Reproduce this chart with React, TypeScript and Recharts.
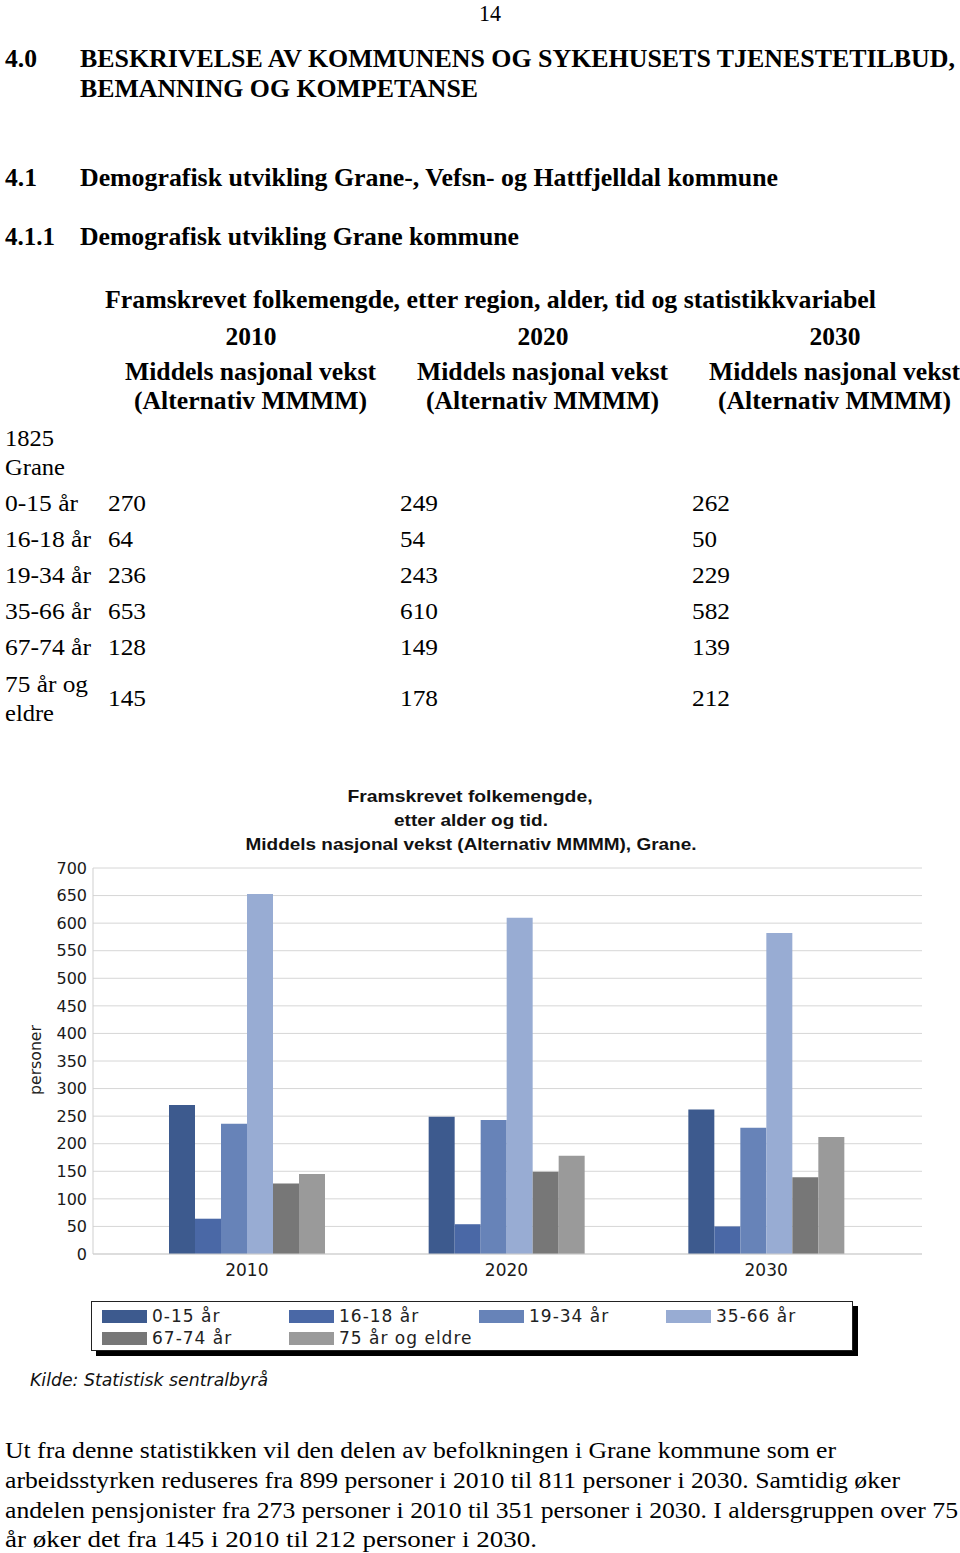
import React from 'react';
import { BarChart, Bar, XAxis, YAxis, CartesianGrid, Legend } from 'recharts';

// chart data
const years = ['2010', '2020', '2030'];
const ageGroups = ['0-15 år', '16-18 år', '19-34 år', '35-66 år', '67-74 år', '75 år og eldre'];
const age0to15 = [270, 249, 262];
const age16to18 = [64, 54, 50];
const age19to34 = [236, 243, 229];
const age35to66 = [653, 610, 582];
const age67to74 = [128, 149, 139];
const age75plus = [145, 178, 212];
const yTicks = [0, 50, 100, 150, 200, 250, 300, 350, 400, 450, 500, 550, 600, 650, 700];

// table row labels (page text above the chart)
const rowLabels = [['0-15 år'], ['16-18 år'], ['19-34 år'], ['35-66 år'], ['67-74 år'], ['75 år og', 'eldre']];

const seriesKeys = ['a0', 'a16', 'a19', 'a35', 'a67', 'a75'];
const seriesValues = [age0to15, age16to18, age19to34, age35to66, age67to74, age75plus];
const colors = ['#3d5a8e', '#4a68a6', '#6783b8', '#98acd3', '#777777', '#9a9a9a'];

const data = years.map((year, i) => {
  const row: Record<string, string | number> = { year };
  seriesKeys.forEach((k, s) => {
    row[k] = seriesValues[s][i];
  });
  return row;
});

const SERIF = '"Liberation Serif", "Times New Roman", Times, serif';
const SANS = '"DejaVu Sans", sans-serif';
const ARIAL = '"Liberation Sans", Arial, sans-serif';

type TProps = {
  x: number;
  y: number;
  w?: number;
  size?: number;
  bold?: boolean;
  italic?: boolean;
  family?: string;
  anchor?: 'start' | 'middle' | 'end';
  fill?: string;
  children: React.ReactNode;
};

const T = ({ x, y, w, size = 24, bold = false, italic = false, family = SERIF, anchor = 'start', fill = '#000', children }: TProps) => (
  <text
    x={x}
    y={y}
    fontSize={size}
    fontFamily={family}
    fontWeight={bold ? 700 : 400}
    fontStyle={italic ? 'italic' : 'normal'}
    textAnchor={anchor}
    textLength={w}
    lengthAdjust={w ? 'spacingAndGlyphs' : undefined}
    fill={fill}
  >
    {children}
  </text>
);

const legendCols = [10, 197, 387, 574];

const renderLegend = () => (
  <div
    style={{
      position: 'relative',
      width: 762,
      height: 50,
      border: '1.5px solid #222',
      boxShadow: '5px 5px 0 #000',
      background: '#fff',
      boxSizing: 'border-box',
      fontFamily: SANS,
      fontSize: 17,
      letterSpacing: 1,
      color: '#222',
    }}
  >
    {ageGroups.map((g, i) => (
      <div
        key={g}
        style={{
          position: 'absolute',
          left: legendCols[i % 4],
          top: 6 + Math.floor(i / 4) * 22,
          display: 'flex',
          alignItems: 'center',
          height: 16,
          whiteSpace: 'nowrap',
        }}
      >
        <span style={{ width: 45, height: 13, background: colors[i], display: 'inline-block' }} />
        <span style={{ marginLeft: 5, lineHeight: '16px' }}>{g}</span>
      </div>
    ))}
  </div>
);

const valueCols = [108, 400, 692];
const rowBase = [511, 547, 583, 619, 655, 706];

const PageText = () => (
  <svg width={960} height={1553} style={{ position: 'absolute', left: 0, top: 0, pointerEvents: 'none' }}>
    <T x={490} y={21} w={22} size={23} anchor="middle">14</T>

    <T x={5} y={67} w={32} size={26} bold>4.0</T>
    <T x={80} y={67} w={875} size={26} bold>BESKRIVELSE AV KOMMUNENS OG SYKEHUSETS TJENESTETILBUD,</T>
    <T x={80} y={97} w={398} size={26} bold>BEMANNING OG KOMPETANSE</T>

    <T x={5} y={186} w={32} size={26} bold>4.1</T>
    <T x={80} y={186} w={698} size={26} bold>Demografisk utvikling Grane-, Vefsn- og Hattfjelldal kommune</T>

    <T x={5} y={245} w={50} size={26} bold>4.1.1</T>
    <T x={80} y={245} w={439} size={26} bold>Demografisk utvikling Grane kommune</T>

    <T x={105} y={308} w={771} size={25} bold>Framskrevet folkemengde, etter region, alder, tid og statistikkvariabel</T>
    {years.map((y, i) => (
      <React.Fragment key={y}>
        <T x={251 + i * 292} y={345} w={51} size={25} bold anchor="middle">{y}</T>
        <T x={125 + i * 292} y={380} w={251} size={25} bold>Middels nasjonal vekst</T>
        <T x={134 + i * 292} y={409} w={233} size={25} bold>(Alternativ MMMM)</T>
      </React.Fragment>
    ))}

    <T x={5} y={446} w={49}>1825</T>
    <T x={5} y={475} w={60}>Grane</T>

    {rowLabels.map((lines, r) => (
      <React.Fragment key={r}>
        {lines.length === 1 ? (
          <T x={5} y={rowBase[r]} w={r === 0 ? 73 : 86}>{lines[0]}</T>
        ) : (
          <>
            <T x={5} y={692} w={83}>{lines[0]}</T>
            <T x={5} y={721} w={49}>{lines[1]}</T>
          </>
        )}
        {seriesValues[r].map((v, c) => (
          <T key={c} x={valueCols[c]} y={rowBase[r]} w={String(v).length === 3 ? 38 : 25}>{v}</T>
        ))}
      </React.Fragment>
    ))}

    {/* chart title */}
    <T x={470} y={802} w={245} size={17} bold family={ARIAL} anchor="middle" fill="#111">Framskrevet folkemengde,</T>
    <T x={471} y={826} w={154} size={17} bold family={ARIAL} anchor="middle" fill="#111">etter alder og tid.</T>
    <T x={471} y={850} w={451} size={17} bold family={ARIAL} anchor="middle" fill="#111">Middels nasjonal vekst (Alternativ MMMM), Grane.</T>

    <g transform="translate(41,1060) rotate(-90)">
      <T x={0} y={0} w={70} size={15} family={SANS} anchor="middle" fill="#222">personer</T>
    </g>

    <T x={30} y={1386} w={238} size={17} italic family={SANS} fill="#111">Kilde: Statistisk sentralbyrå</T>

    <T x={5} y={1458} w={831}>Ut fra denne statistikken vil den delen av befolkningen i Grane kommune som er</T>
    <T x={5} y={1488} w={895}>arbeidsstyrken reduseres fra 899 personer i 2010 til 811 personer i 2030. Samtidig øker</T>
    <T x={5} y={1518} w={953}>andelen pensjonister fra 273 personer i 2010 til 351 personer i 2030. I aldersgruppen over 75</T>
    <T x={5} y={1547} w={532}>år øker det fra 145 i 2010 til 212 personer i 2030.</T>
  </svg>
);

export default function App() {
  return (
    <div style={{ position: 'absolute', left: 0, top: 0, width: 960, height: 1553, background: '#fff' }}>
      <div style={{ position: 'absolute', left: 0, top: 770 }}>
        <BarChart
          width={960}
          height={620}
          data={data}
          margin={{ top: 98, right: 38, bottom: 106, left: 33 }}
          barGap={0}
          barSize={26}
        >
          <CartesianGrid vertical={false} stroke="#d6d6d6" />
          <XAxis
            dataKey="year"
            padding={{ left: 24, right: 26 }}
            tickLine={false}
            tickSize={8}
            tickMargin={2}
            axisLine={{ stroke: '#cfcfcf' }}
            tick={{ fontSize: 17, fontFamily: SANS, fill: '#1a1a1a' }}
            height={30}
          />
          <YAxis
            domain={[0, 700]}
            ticks={yTicks}
            interval={0}
            width={60}
            tickLine={false}
            tickSize={6}
            tickMargin={0}
            axisLine={{ stroke: '#cfcfcf' }}
            tick={{ fontSize: 16, fontFamily: SANS, fill: '#1a1a1a' }}
          />
          <YAxis
            yAxisId="right"
            orientation="right"
            domain={[0, 700]}
            width={0}
            tick={false}
            tickLine={false}
            axisLine={{ stroke: '#d6d6d6' }}
          />
          {seriesKeys.map((k, i) => (
            <Bar key={k} dataKey={k} name={ageGroups[i]} fill={colors[i]} barSize={26} isAnimationActive={false} />
          ))}
          <Legend
            layout="vertical"
            align="center"
            verticalAlign="middle"
            content={renderLegend}
            wrapperStyle={{ left: 91, top: 531, width: 770, height: 60 }}
          />
        </BarChart>
      </div>
      <PageText />
    </div>
  );
}
